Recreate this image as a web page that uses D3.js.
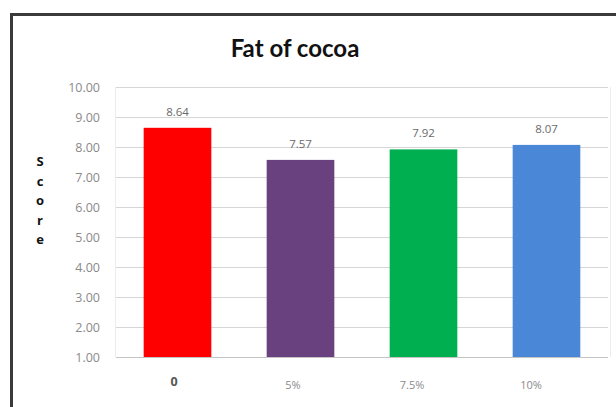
<!DOCTYPE html>
<html>
<head>
<meta charset="utf-8">
<script src="https://cdn.jsdelivr.net/npm/d3@7"></script>
<style>
  html, body { margin: 0; padding: 0; background: #fff; }
  svg { display: block; }
</style>
</head>
<body>
<svg id="chart" width="616" height="407"></svg>
<script>
// Sensory score by cocoa fat level
const categories = ["0", "5%", "7.5%", "10%"];
const scores = [8.64, 7.57, 7.92, 8.07];
const barColors = ["#ff0000", "#68417e", "#00b050", "#4a87d6"];
const yTicks = [1, 2, 3, 4, 5, 6, 7, 8, 9, 10];

const W = 616, H = 407;
const svg = d3.select("#chart");

// chart frame
svg.append("path")
  .attr("d", `M11.5,${H + 5} L11.5,14.5 L${W + 5},14.5`)
  .attr("fill", "none")
  .attr("stroke", "#3a3a3a")
  .attr("stroke-width", 3);

const plot = { left: 116, right: 608, top: 87, bottom: 357 };

const x = d3.scaleBand()
  .domain(categories)
  .range([plot.left, plot.right])
  .paddingInner(0.45)
  .paddingOuter(0.225);

const y = d3.scaleLinear()
  .domain([1, 10])
  .range([plot.bottom, plot.top]);

// gridlines
svg.append("g")
  .selectAll("line")
  .data(yTicks)
  .join("line")
  .attr("x1", plot.left)
  .attr("x2", plot.right)
  .attr("y1", d => Math.round(y(d)) + 0.5)
  .attr("y2", d => Math.round(y(d)) + 0.5)
  .attr("stroke", d => d === 1 ? "#c4c4c4" : "#d6d6d6")
  .attr("stroke-width", 1);

// faint plot-area side edges
svg.append("g")
  .selectAll("line")
  .data([plot.left - 1, plot.right + 2])
  .join("line")
  .attr("x1", d => d + 0.5)
  .attr("x2", d => d + 0.5)
  .attr("y1", plot.top)
  .attr("y2", plot.bottom)
  .attr("stroke", "#ececec");

// y axis labels
const yAxis = d3.axisLeft(y)
  .tickValues(yTicks)
  .tickFormat(d3.format(".2f"))
  .tickSize(0)
  .tickPadding(0);
svg.append("g")
  .attr("transform", `translate(100,0)`)
  .call(yAxis)
  .call(g => g.select(".domain").remove())
  .call(g => g.selectAll("text")
    .attr("fill", "#8a8a8a")
    .attr("font-family", "'Open Sans', sans-serif")
    .attr("font-size", 12.5)
    .attr("dy", "0.35em"));

// bars
svg.append("g")
  .selectAll("rect")
  .data(scores)
  .join("rect")
  .attr("x", (d, i) => x(categories[i]))
  .attr("width", x.bandwidth())
  .attr("y", d => y(d))
  .attr("height", d => y(1) - y(d))
  .attr("fill", (d, i) => barColors[i]);

// value labels
svg.append("g")
  .selectAll("text")
  .data(scores)
  .join("text")
  .attr("x", (d, i) => x(categories[i]) + x.bandwidth() / 2)
  .attr("y", d => y(d) - 12)
  .attr("text-anchor", "middle")
  .attr("fill", "#6a6a6a")
  .attr("font-family", "'Open Sans', sans-serif")
  .attr("font-size", 11.5)
  .text(d => d.toFixed(2));

// category labels sit slightly left of the bar centres
const xLabel = d3.scalePoint()
  .domain(categories)
  .range([174, 531]);
svg.append("g")
  .selectAll("text")
  .data(categories)
  .join("text")
  .attr("x", d => xLabel(d))
  .attr("y", (d, i) => i === 0 ? 386 : 389)
  .attr("text-anchor", "middle")
  .attr("fill", (d, i) => i === 0 ? "#555" : "#8a8a8a")
  .attr("font-weight", (d, i) => i === 0 ? "bold" : "normal")
  .attr("font-family", "'Open Sans', sans-serif")
  .attr("font-size", (d, i) => i === 0 ? 12.5 : 11)
  .text(d => d);

// title
svg.append("text")
  .attr("x", 295)
  .attr("y", 57)
  .attr("text-anchor", "middle")
  .attr("font-family", "Lato, 'Open Sans', sans-serif")
  .attr("font-weight", "bold")
  .attr("font-size", 24)
  .attr("fill", "#111")
  .text("Fat of cocoa");

// vertical y-axis title, one letter per line
const yTitle = "Score".split("");
svg.append("g")
  .selectAll("text")
  .data(yTitle)
  .join("text")
  .attr("x", 40)
  .attr("y", (d, i) => 166 + i * 19.5)
  .attr("text-anchor", "middle")
  .attr("font-family", "'Open Sans', sans-serif")
  .attr("font-weight", "bold")
  .attr("font-size", 13)
  .attr("fill", "#111")
  .text(d => d);
</script>
</body>
</html>
